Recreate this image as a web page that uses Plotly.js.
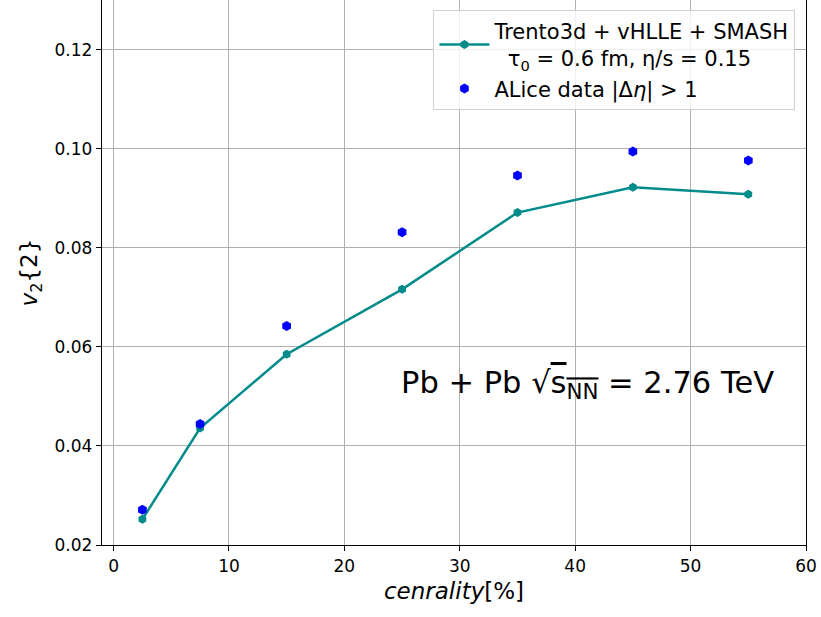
<!DOCTYPE html>
<html>
<head>
<meta charset="utf-8">
<script src="https://cdn.plot.ly/plotly-3.0.1.min.js"></script>
<style>html,body{margin:0;padding:0;background:#fff;}#chart{width:821px;height:617px;}</style>
</head>
<body>
<div id="chart"></div>
<script>
const centrality = [2.5, 7.5, 15, 25, 35, 45, 55];
const modelV2 = [0.0252, 0.0436, 0.0585, 0.0716, 0.0871, 0.0922, 0.0908];
const aliceV2 = [0.0271, 0.0444, 0.0642, 0.0831, 0.0946, 0.0994, 0.0976];
const aliceErr = [0.0004, 0.0004, 0.0004, 0.0004, 0.0004, 0.0004, 0.0004];
const xTicks = [0, 10, 20, 30, 40, 50, 60];
const yTicks = [0.02, 0.04, 0.06, 0.08, 0.10, 0.12];
const yTickLabels = ["0.02", "0.04", "0.06", "0.08", "0.10", "0.12"];

const traces = [
  {
    x: centrality, y: modelV2, type: 'scatter', mode: 'lines+markers',
    name: 'Trento3d + vHLLE + SMASH<br>  τ<sub>0</sub> = 0.6 fm, η/s = 0.15',
    line: {color: '#008B8B', width: 2.5},
    marker: {color: '#008B8B', size: 9, symbol: 'hexagon'}
  },
  {
    x: centrality, y: aliceV2, type: 'scatter', mode: 'markers',
    name: 'ALice data |Δ<i>η</i>| > 1',
    marker: {color: '#0000FF', size: 10, symbol: 'hexagon'},
    error_y: {type: 'data', array: aliceErr, visible: true, color: 'black', thickness: 1.2, width: 4}
  }
];

const layout = {
  width: 821, height: 617,
  margin: {l: 102, r: 15, t: 0, b: 72},
  paper_bgcolor: '#fff', plot_bgcolor: '#fff',
  font: {family: 'DejaVu Sans, sans-serif', color: '#000', size: 16},
  xaxis: {
    range: [-1, 60], tickvals: xTicks, ticks: 'outside', ticklen: 5, tickcolor: '#000',
    showline: true, linecolor: '#000', linewidth: 1.2, mirror: true,
    showgrid: true, gridcolor: '#b0b0b0', gridwidth: 1, zeroline: false,
    tickfont: {size: 17},
    title: {text: '<i>cenrality</i>[%]', font: {size: 23}, standoff: 8}
  },
  yaxis: {
    range: [0.02, 0.13], tickvals: yTicks, ticktext: yTickLabels, ticks: 'outside', ticklen: 5, tickcolor: '#000',
    showline: true, linecolor: '#000', linewidth: 1.2, mirror: true,
    showgrid: true, gridcolor: '#b0b0b0', gridwidth: 1, zeroline: false,
    tickfont: {size: 17},
    title: {text: '<i>v</i><sub>2</sub>{2}', font: {size: 23}, standoff: 10}
  },
  legend: {
    x: 0.985, y: 0.982, xanchor: 'right', yanchor: 'top',
    bgcolor: 'rgba(255,255,255,0.8)', bordercolor: '#d0d0d0', borderwidth: 1,
    font: {size: 21}, tracegroupgap: 8, itemwidth: 50
  },
  annotations: [{
    x: 0.957, y: 0.295, xref: 'paper', yref: 'paper', xanchor: 'right', yanchor: 'middle',
    text: 'Pb + Pb √<span style="text-decoration:overline">s<sub>NN</sub></span> = 2.76 TeV',
    showarrow: false, font: {size: 30.5, color: '#000'}
  }],
  showlegend: true
};

Plotly.newPlot('chart', traces, layout, {displayModeBar: false, staticPlot: true});
</script>
</body>
</html>
